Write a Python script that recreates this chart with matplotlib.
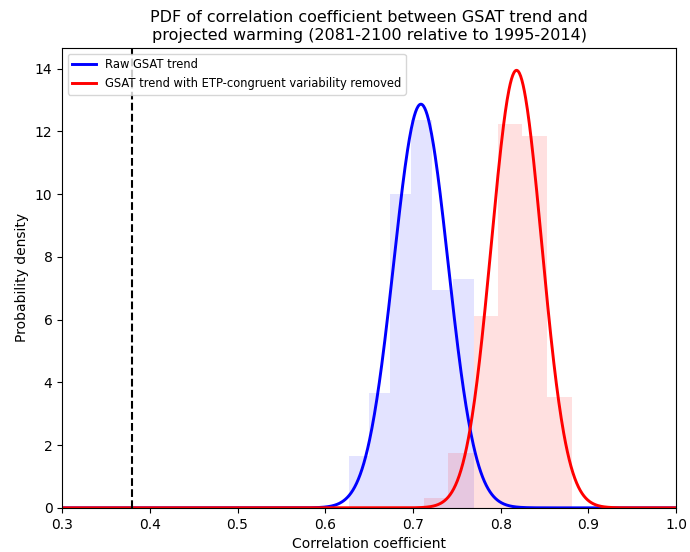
import numpy as np
import matplotlib
matplotlib.use("Agg")
from matplotlib import pyplot as plt

# histogram of correlation coefficients (density)
raw_edges = [0.627, 0.650, 0.674, 0.698, 0.722, 0.746, 0.769]
raw_density = [1.65, 3.65, 10.0, 12.35, 6.95, 7.3]

etp_edges = [0.713, 0.740, 0.769, 0.797, 0.824, 0.853, 0.881]
etp_density = [0.31, 1.74, 6.12, 12.24, 11.87, 3.54]

# fitted normal distributions (mean, std)
raw_fit = (0.709, 0.031)
etp_fit = (0.818, 0.0286)

observed_r = 0.38


def normal_pdf(x, mu, sd):
    return np.exp(-0.5 * ((x - mu) / sd) ** 2) / (sd * np.sqrt(2 * np.pi))


fig, ax = plt.subplots(figsize=(6.9, 5.52), dpi=100)

ax.stairs(raw_density, raw_edges, fill=True, color="blue", alpha=0.11, linewidth=0)
ax.stairs(etp_density, etp_edges, fill=True, color="red", alpha=0.12, linewidth=0)

x = np.linspace(0.3, 1.0, 1000)
ax.plot(x, normal_pdf(x, *raw_fit), color="blue", linewidth=2.1, label="Raw GSAT trend")
ax.plot(x, normal_pdf(x, *etp_fit), color="red", linewidth=2.1,
        label="GSAT trend with ETP-congruent variability removed")

ax.axvline(observed_r, color="black", linestyle="--", linewidth=1.5)

ax.set_xlim(0.3, 1.0)
ax.set_ylim(0, 14.66)
ax.set_xlabel("Correlation coefficient")
ax.set_ylabel("Probability density")
ax.set_title("PDF of correlation coefficient between GSAT trend and\n"
             "projected warming (2081-2100 relative to 1995-2014)", fontsize=11.5)
ax.legend(loc="upper left", fontsize=8.3)

fig.subplots_adjust(left=0.09, right=0.98, top=0.913, bottom=0.08)
fig.savefig("out.png")
